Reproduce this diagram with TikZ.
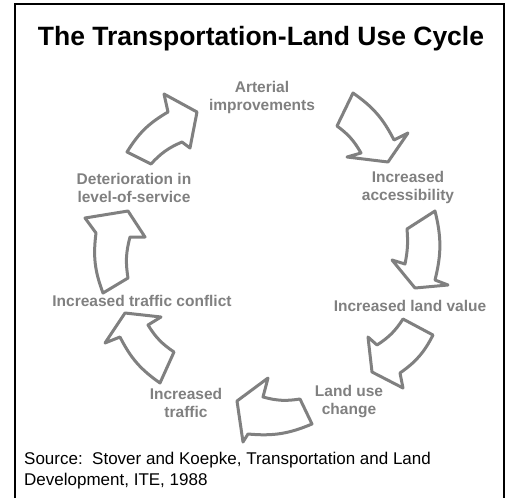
\documentclass[tikz,border=0pt]{standalone}
\usepackage{fontspec}
\setmainfont{Liberation Sans}
\definecolor{cyclegray}{RGB}{128,128,128}
\tikzset{
	cyclearrow/.style={draw=cyclegray, fill=white, line width=3pt, line join=round},
	steplabel/.style={text=cyclegray, font=\bfseries\fontsize{15.5}{18}\selectfont, align=center, inner sep=0pt},
}

\begin{document}
\begin{tikzpicture}[x=1pt, y=-1pt]
		% Frame, title, labels and arrows:
		\useasboundingbox (0,0) rectangle (508,498);
		\draw[line width=1.5pt] (15,498) -- (15,4) -- (504,4) -- (504,498);
		\node[anchor=base, inner sep=0pt, font=\bfseries\fontsize{26.5}{30}\selectfont] (title) at (261, 45){The Transportation-Land Use Cycle};
		\node[steplabel] (arterial) at (262, 97.5){Arterial\\improvements};
		\node[steplabel] (access) at (408, 187){Increased\\accessibility};
		\node[steplabel] (landvalue) at (410, 306){Increased land value};
		\node[steplabel] (landuse) at (349, 402){Land use\\change};
		\node[steplabel] (traffic) at (186, 402.5){Increased\\traffic};
		\node[steplabel] (conflict) at (142, 301){Increased traffic conflict};
		\node[steplabel] (deterior) at (134, 188){Deterioration in\\level-of-service};
		\draw[cyclearrow] (127,152) to[bend left=14] (168,112) -- (164,94) -- (197,112) -- (190,148) -- (182,142) to[bend right=12] (151,164) -- cycle;
		\draw[cyclearrow] (353,93) to[bend left=14] (394,140) -- (408,133) -- (388,162) -- (347,157) -- (361,153) to[bend right=12] (337,126) -- cycle;
		\draw[cyclearrow] (435,211) to[bend left=14] (435,280) -- (448,285) -- (415,288) -- (392,260) -- (405,264) to[bend right=8] (407,229) -- cycle;
		\draw[cyclearrow] (433,335) to[bend left=14] (400,373) -- (403,388) -- (372,372) -- (368,337) -- (377,345) to[bend right=12] (403,319) -- cycle;
		\draw[cyclearrow] (312,424) to[bend left=14] (248,434) -- (243,442) -- (237,401) -- (268,378) -- (263,397) to[bend right=12] (300,399) -- cycle;
		\draw[cyclearrow] (160,383) to[bend left=14] (120,337) -- (105,343) -- (125,313) -- (161,317) -- (148,325) to[bend right=12] (174,352) -- cycle;
		\draw[cyclearrow] (103,293) to[bend left=14] (96,233) -- (85,218) -- (128,211) -- (145,237) -- (130,237) to[bend right=12] (128,278) -- cycle;
		\node[anchor=north west, align=left, inner sep=0pt, font=\fontsize{17}{21}\selectfont] (source) at (24, 451.6){Source:\ \ Stover and Koepke, Transportation and Land\\Development, ITE, 1988};
	\end{tikzpicture}
\end{document}
